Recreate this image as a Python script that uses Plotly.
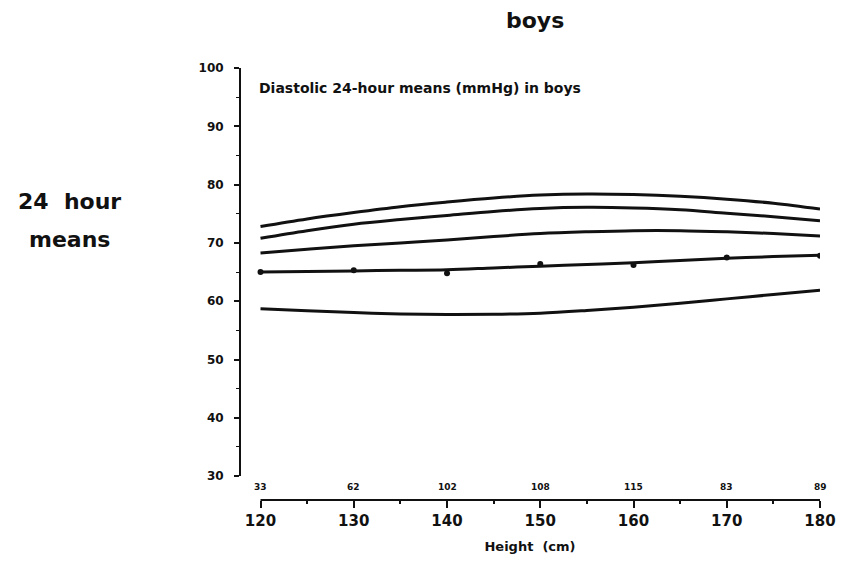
import plotly.graph_objects as go

# Height grid (cm) for the smoothed reference curves
heights = [120, 125, 130, 135, 140, 145, 150, 155, 160, 165, 170, 175, 180]

# Smoothed diastolic 24-hour curves (mmHg), top to bottom
curve_top = [72.8, 74.1, 75.2, 76.2, 77.0, 77.7, 78.2, 78.4, 78.3, 78.0, 77.5, 76.8, 75.8]
curve_second = [70.8, 72.1, 73.2, 74.0, 74.7, 75.4, 75.9, 76.1, 76.0, 75.7, 75.1, 74.5, 73.8]
curve_third = [68.25, 68.9, 69.5, 70.0, 70.5, 71.1, 71.6, 71.9, 72.1, 72.1, 71.9, 71.6, 71.2]
curve_mean = [65.0, 65.1, 65.2, 65.3, 65.4, 65.7, 66.0, 66.3, 66.6, 67.0, 67.35, 67.65, 67.9]
curve_bottom = [58.7, 58.35, 58.05, 57.8, 57.7, 57.75, 57.95, 58.4, 58.95, 59.65, 60.4, 61.15, 61.9]

# Observed group means and number of boys per height class
class_heights = [120, 130, 140, 150, 160, 170, 180]
observed_means = [65.0, 65.3, 64.8, 66.4, 66.2, 67.5, 67.8]
counts = ["33", "62", "102", "108", "115", "83", "89"]

y_ticks = [30, 40, 50, 60, 70, 80, 90, 100]
y_minor = [35, 45, 55, 65, 75, 85, 95]
x_ticks = [120, 130, 140, 150, 160, 170, 180]
x_minor = [125, 135, 145, 155, 165, 175]

FONT = "DejaVu Sans"
INK = "#111111"

fig = go.Figure()

for ys in [curve_top, curve_second, curve_third, curve_mean, curve_bottom]:
    fig.add_trace(go.Scatter(
        x=heights, y=ys, mode="lines",
        line=dict(color=INK, width=3, shape="spline", smoothing=1.0),
        hoverinfo="skip", showlegend=False,
    ))

fig.add_trace(go.Scatter(
    x=class_heights, y=observed_means, mode="markers",
    marker=dict(color=INK, size=6),
    showlegend=False,
))

# Axis lines spanning only the labelled ranges
fig.add_shape(type="line", xref="paper", yref="y", x0=0, x1=0, y0=30, y1=100,
              line=dict(color=INK, width=2))
fig.add_shape(type="line", xref="x", yref="paper", x0=120, x1=180, y0=0, y1=0,
              line=dict(color=INK, width=2))

# Sample sizes above the height axis
for xv, n in zip(class_heights, counts):
    fig.add_annotation(x=xv, xref="x", y=0, yref="paper", text=n, showarrow=False,
                       yanchor="bottom", yshift=6,
                       font=dict(family=FONT, size=9, color=INK, weight="bold"))

fig.add_annotation(x=0.029, xref="paper", y=0.954, yref="paper",
                   text="Diastolic 24-hour means (mmHg) in boys", showarrow=False,
                   xanchor="left", yanchor="middle",
                   font=dict(family=FONT, size=14, color=INK, weight="bold"))

fig.add_annotation(x=-0.294, xref="paper", y=0.691, yref="paper",
                   text="24\u00a0\u00a0hour", showarrow=False,
                   xanchor="center", yanchor="middle",
                   font=dict(family=FONT, size=22, color=INK, weight="bold"))
fig.add_annotation(x=-0.294, xref="paper", y=0.604, yref="paper",
                   text="means", showarrow=False,
                   xanchor="center", yanchor="middle",
                   font=dict(family=FONT, size=22, color=INK, weight="bold"))

fig.update_layout(
    width=848, height=563,
    margin=dict(l=240, r=20, t=68, b=61),
    paper_bgcolor="white", plot_bgcolor="white",
    title=dict(text="boys", x=0.631, xanchor="center", y=0.9645, yanchor="middle",
               font=dict(family=FONT, size=22, color=INK, weight="bold")),
    xaxis=dict(
        range=[117.8, 180], showgrid=False, zeroline=False, showline=False,
        tickmode="array", tickvals=x_ticks, ticktext=[str(v) for v in x_ticks],
        ticks="outside", ticklen=7, tickwidth=2, tickcolor=INK,
        minor=dict(tickvals=x_minor, ticks="outside", ticklen=3, tickwidth=1.5, tickcolor=INK),
        tickfont=dict(family=FONT, size=15, color=INK, weight="bold"),
        title=dict(text="Height\u00a0\u00a0(cm)", standoff=12,
                   font=dict(family=FONT, size=13, color=INK, weight="bold")),
    ),
    yaxis=dict(
        range=[25.9, 100], showgrid=False, zeroline=False, showline=False,
        tickmode="array", tickvals=y_ticks, ticktext=[str(v) for v in y_ticks],
        ticks="outside", ticklen=5, tickwidth=1.5, tickcolor=INK,
        minor=dict(tickvals=y_minor, ticks="outside", ticklen=3, tickwidth=1, tickcolor=INK),
        tickfont=dict(family=FONT, size=12, color=INK, weight="bold"),
        ticklabelstandoff=8,
    ),
)

fig.write_html("out.html")
